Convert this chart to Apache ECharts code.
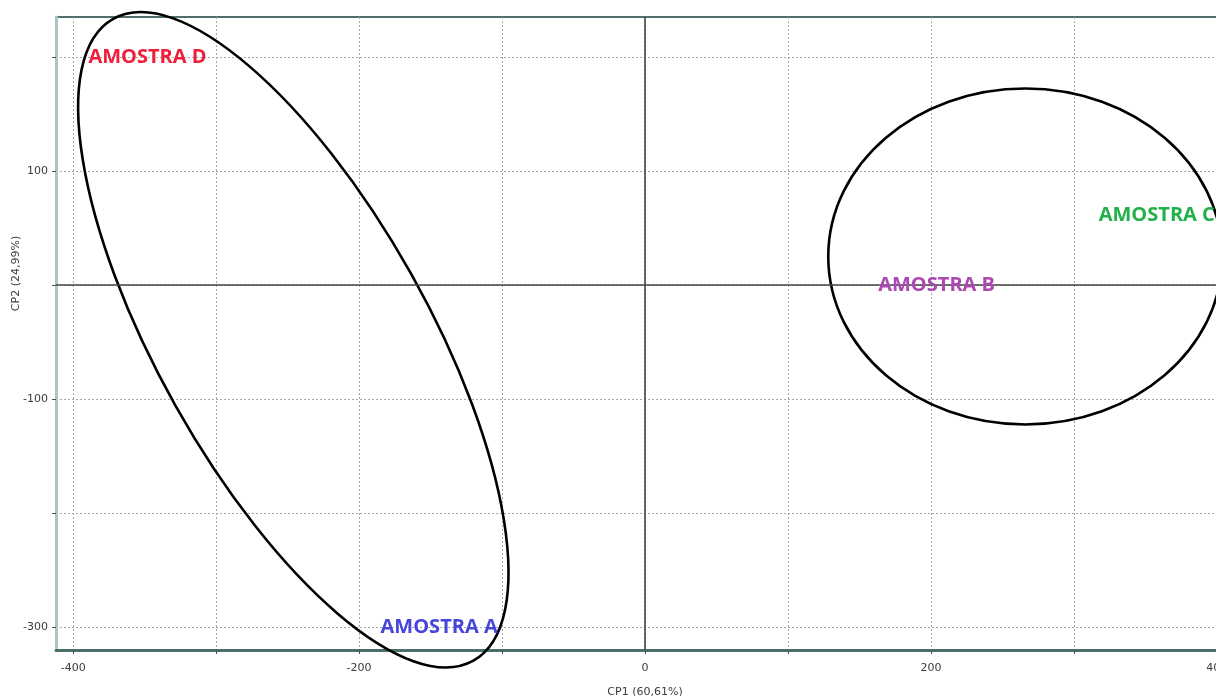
<!DOCTYPE html>
<html>
<head>
<meta charset="utf-8">
<script src="https://cdn.jsdelivr.net/npm/echarts@6/dist/echarts.min.js"></script>
<style>
  html, body { margin: 0; padding: 0; background: #ffffff; }
  #chart { width: 1216px; height: 696px; }
</style>
</head>
<body>
<div id="chart"></div>
<script>
// PCA score plot: samples on the first two principal components
const sampleNames = ['AMOSTRA A', 'AMOSTRA B', 'AMOSTRA C', 'AMOSTRA D'];
const cp1Scores = [-144, 204, 358, -348];
const cp2Scores = [-300, 0, 61, 200];
const sampleColors = ['#4646dc', '#ac48b2', '#22b04a', '#f01e3a'];

// axis ticks and labels
const xTickValues = [-400, -300, -200, -100, 0, 100, 200, 300, 400];
const xLabelValues = [-400, -200, 0, 200, 400];
const yTickValues = [-300, -200, -100, 0, 100, 200];
const yLabelValues = [-300, -100, 100];
const xAxisTitle = 'CP1 (60,61%)';
const yAxisTitle = 'CP2 (24,99%)';

// grouping outlines, centred on the score plane
const groupCentersX = [-246, 266];
const groupCentersY = [-48, 25];

// outline shapes in screen pixels (semi-axes and tilt in degrees)
const outlineShapes = [
  { rx: 368, ry: 135, tilt: -60.7 },
  { rx: 197, ry: 168, tilt: 0 }
];

const chart = echarts.init(document.getElementById('chart'), null, { renderer: 'canvas' });

const tickFont = { fontFamily: 'DejaVu Sans', fontSize: 11, color: '#3c3c3c' };
const gridLine = { show: true, lineStyle: { color: '#a6a6a6', width: 1, type: [2, 2] } };

const option = {
  backgroundColor: '#ffffff',
  animation: false,
  grid: {
    show: true,
    left: 56, top: 17, width: 1218, height: 633,
    containLabel: false,
    outerBoundsMode: 'none',
    borderColor: '#4f6f6c', borderWidth: 2,
    backgroundColor: 'transparent'
  },
  xAxis: {
    type: 'value',
    min: -412, max: 440,
    name: xAxisTitle,
    nameLocation: 'middle',
    nameGap: 37,
    nameMoveOverlap: false,
    nameTextStyle: Object.assign({}, tickFont, { padding: [0, 40, 0, 0] }),
    axisLine: { show: true, onZero: false, lineStyle: { color: '#4a706c', width: 3 } },
    axisTick: { show: true, customValues: xTickValues, length: 4, inside: false, lineStyle: { color: '#3c5a57' } },
    axisLabel: Object.assign({ customValues: xLabelValues, margin: 13 }, tickFont),
    splitLine: gridLine
  },
  yAxis: {
    type: 'value',
    min: -320, max: 235,
    name: yAxisTitle,
    nameLocation: 'middle',
    nameGap: 34,
    nameRotate: 90,
    nameMoveOverlap: false,
    nameTextStyle: Object.assign({}, tickFont, { padding: [0, 0, 0, 120] }),
    axisLine: { show: true, onZero: false, lineStyle: { color: '#a9c5c4', width: 3 } },
    axisTick: { show: true, customValues: yTickValues, length: 4, lineStyle: { color: '#3c5a57' } },
    axisLabel: Object.assign({ customValues: yLabelValues, margin: 8 }, tickFont),
    splitLine: gridLine
  },
  series: [
    {
      type: 'scatter',
      z: 5,
      symbolSize: 2,
      itemStyle: { color: 'rgba(0,0,0,0)', opacity: 1 },
      data: sampleNames.map((n, i) => ({
        name: n,
        value: [cp1Scores[i], cp2Scores[i]],
        label: { color: sampleColors[i] }
      })),
      label: {
        show: true,
        position: 'inside',
        formatter: '{b}',
        fontFamily: 'Open Sans',
        fontWeight: 'bold',
        fontSize: 20
      },
      markLine: {
        silent: true,
        symbol: 'none',
        label: { show: false },
        lineStyle: { color: '#444444', width: 1.6, type: 'solid', opacity: 1 },
        data: [{ xAxis: 0 }, { yAxis: 0 }]
      }
    },
    {
      type: 'custom',
      z: 4,
      clip: false,
      silent: true,
      data: groupCentersX.map((x, i) => [x, groupCentersY[i]]),
      renderItem: function (params, api) {
        const c = api.coord([api.value(0), api.value(1)]);
        const s = outlineShapes[params.dataIndex];
        return {
          type: 'ellipse',
          x: c[0], y: c[1],
          rotation: s.tilt * Math.PI / 180,
          shape: { cx: 0, cy: 0, rx: s.rx, ry: s.ry },
          style: { fill: 'none', stroke: '#000000', lineWidth: 2.6 }
        };
      }
    }
  ]
};

chart.setOption(option);
</script>
</body>
</html>
